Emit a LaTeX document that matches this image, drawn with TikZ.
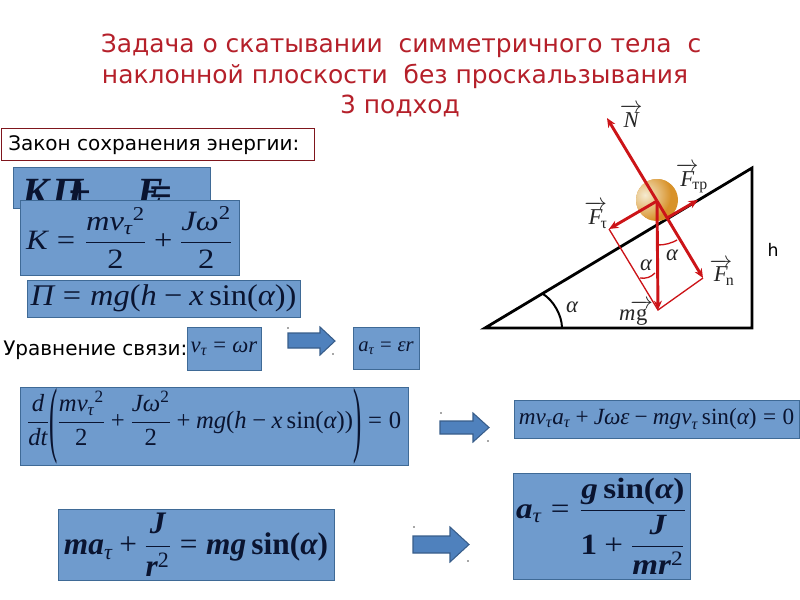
\documentclass[tikz,border=0pt]{standalone}
\usepackage{fix-cm}
\usepackage{amsmath}
\usepackage{graphicx}
\usepackage{fontspec}
\setmainfont{DejaVu Sans}
\newfontfamily\tms{Liberation Serif}
\usetikzlibrary{arrows.meta}
\definecolor{boxfill}{HTML}{6F9BCD}
\definecolor{boxline}{HTML}{3F6A96}
\definecolor{inkblue}{HTML}{0A1430}
\definecolor{titlered}{HTML}{B5202A}
\definecolor{forcered}{HTML}{CC1418}
\definecolor{arrowfill}{HTML}{4F81BD}
\definecolor{arrowline}{HTML}{385D8A}
\definecolor{ballin}{HTML}{F5EBD0}
\definecolor{ballout}{HTML}{D8922A}
\newcommand{\fs}[1]{\fontsize{#1}{#1}\selectfont}
\newcommand{\mi}[1]{\text{\itshape #1}}
\newcommand{\mr}[1]{\text{\upshape #1}}
\newcommand{\mb}[1]{\text{\bfseries\itshape #1}}
\newcommand{\mc}[1]{\text{\bfseries\upshape #1}}
\newcommand{\Pl}{\mathbin{\text{\upshape +}}}
\newcommand{\Mn}{\mathbin{\text{\upshape −}}}
\newcommand{\Eq}{\mathrel{\text{\upshape =}}}
\newcommand{\Fr}[2]{\genfrac{}{}{0.9pt}{0}{#1}{#2}}
\newcommand{\Vc}[1]{\overrightarrow{#1}\mkern-5mu}
\tikzset{
  wh/.style 2 args={minimum width=#1*0.75pt, minimum height=#2*0.75pt},
  formula/.style={draw=boxline, line width=0.7pt, fill=boxfill, text=inkblue, inner sep=0pt, font=\tms},
  titletext/.style={text=titlered, font=\fs{18.7}, inner sep=0pt},
  plaintext/.style={text=black, font=\fs{15}, inner sep=0pt},
  blockarrow/.style={draw=arrowline, line width=0.8pt, fill=arrowfill},
  speck/.style={fill=black!70, draw=none},
  edge/.style={draw=black, line width=2.1pt},
  force/.style={draw=forcered, line width=2.2pt, -{Stealth[length=7pt,width=6pt]}},
  thinred/.style={draw=forcered, line width=1pt},
  lab/.style={text=black!85, font=\tms\fs{17}, inner sep=0pt}
}
\begin{document}
\begin{tikzpicture}[x=0.75pt,y=-0.75pt]
\useasboundingbox (0,0) rectangle (800,600);
\node[titletext] (t1) at (401,46) {Задача о скатывании\ \ симметричного тела\ \ с};
\node[titletext] (t2) at (395,76) {наклонной плоскости\ \ без проскальзывания};
\node[titletext] (t3) at (400,106) {3 подход};
\node[plaintext, draw=titlered!70!black, line width=0.7pt, fill=white, wh={313}{32}] (law) at (157.5,144) {};
\node[plaintext, anchor=west] (lawt) at (8,145) {Закон сохранения энергии:};
\node[plaintext, anchor=west] (uravn) at (3,350) {Уравнение связи:};
% formula boxes
\node[formula, wh={197}{41}] (f0) at (111.5,187.5) {};
\node[text=inkblue, font=\tms\fs{30}\bfseries\itshape, anchor=west, inner sep=0pt] (f0t) at (22,192) {K\kern 3pt П\kern-12pt +\kern 35pt E\kern-11pt =};
\node[formula, wh={219}{75}] (f1) at (129.5,237.5) {\scalebox{1.16}[1]{\fs{21}$\mi{K}\Eq\Fr{\mi{mv}_{\mi{τ}}{}^{\mr{2}}}{\mr{2}}\Pl\Fr{\mi{Jω}^{\mr{2}}}{\mr{2}}$}};
\node[formula, wh={273}{37}] (f2) at (163.5,298.5) {\scalebox{1.08}[1]{\fs{22.5}$\mi{П}\Eq\mi{mg}\mr{(}\mi{h}\Mn\mi{x}\mr{\,sin(}\mi{α}\mr{))}$}};
\node[formula, wh={74}{43}] (f3) at (224,348.5) {\fs{17}$\mi{v}_{\mi{τ}}\Eq\mi{ωr}$};
\node[formula, wh={66}{42}] (f4) at (386,348) {\fs{15.5}$\mi{a}_{\mi{τ}}\Eq\mi{εr}$};
\node[formula, wh={388}{78}] (f5) at (214,426) {\fs{18.5}$\Fr{\mi{d}}{\mi{dt}}\raisebox{-0.72em}{\scalebox{1}[3.4]{\upshape(}}\Fr{\mi{mv}_{\mi{τ}}{}^{\mr{2}}}{\mr{2}}\Pl\Fr{\mi{Jω}^{\mr{2}}}{\mr{2}}\Pl\mi{mg}\mr{(}\mi{h}\Mn\mi{x}\mr{\,sin(}\mi{α}\mr{))}\raisebox{-0.72em}{\scalebox{1}[3.4]{\upshape)}}\Eq\mr{0}$};
\node[formula, wh={285}{38}] (f6) at (656.5,419) {\fs{17.4}$\mi{mv}_{\mi{τ}}\mi{a}_{\mi{τ}}\Pl\mi{Jωε}\Mn\mi{mgv}_{\mi{τ}}\mr{\,sin(}\mi{α}\mr{)}\Eq\mr{0}$};
\node[formula, wh={276}{71}] (f7) at (196,544.5) {\fs{23.5}$\mb{ma}_{\mi{τ}}\Pl\Fr{\mb{J}}{\mb{r}^{\mr{2}}}\Eq\mb{mg}\mc{\,sin(}\mb{α}\mc{)}$};
\node[formula, wh={177}{106}] (f8) at (601.5,526) {\scalebox{1.13}[1]{\fs{22}$\mb{a}_{\mi{τ}}\Eq\Fr{\mb{g}\mc{\,sin(}\mb{α}\mc{)}}{\mc{1}\Pl\Fr{\mb{J}}{\mb{mr}^{\mr{2}}}}$}};
% block arrows
\draw[blockarrow] (288,333) -- (320,333) -- (320,327) -- (335,341) -- (320,355) -- (320,348) -- (288,348) -- cycle;
\draw[blockarrow] (440,421) -- (473,421) -- (473,413) -- (489,427.5) -- (473,442) -- (473,434) -- (440,434) -- cycle;
\draw[blockarrow] (413,536) -- (450,536) -- (450,527) -- (469,544.5) -- (450,562) -- (450,553) -- (413,553) -- cycle;
\foreach \px/\py in {288/328,333/354,441/413,488/441,414/527,468/561}
  \fill[speck] (\px,\py) circle (0.6pt);
% incline
\coordinate (A) at (485,328);
\coordinate (B) at (752,328);
\coordinate (C) at (752,168);
\draw[edge, line join=miter] (A) -- (B) -- (C) -- cycle;
\draw[draw=black, line width=1.5pt] (543,294) .. controls (553,300) and (562,315) .. (562,328);
% ball
\fill[ballout] (657,200) circle (21);
\begin{scope}
\clip (657,200) circle (21);
\shade[inner color=ballin, outer color=ballout] (645,195) circle (26);
\end{scope}
% forces
\coordinate (O) at (657,201);
\coordinate (N) at (607,118);
\coordinate (Fn) at (703,278);
\coordinate (Ft) at (609,229);
\coordinate (Mg) at (658,310);
\coordinate (Tr0) at (667,218);
\coordinate (Tr) at (698,200);
\draw[thinred] (Ft) -- (Mg) -- (Fn);
\draw[force] (O) -- (N);
\draw[force] (O) -- (Fn);
\draw[force] (O) -- (Ft);
\draw[force] (O) -- (Mg);
\draw[force] (Tr0) -- (Tr);
\draw[thinred] (658,245) .. controls (665,245) and (672,243) .. (677,240);
\draw[thinred] (640,278) .. controls (646,279) and (651,277) .. (655,273);
% labels
\node[lab] (lN) at (628,116) {$\Vc{\mi{N}}$};
\node[lab] (lTr) at (692,178) {$\Vc{\mi{F}}{}_{\mr{тр}}$};
\node[lab] (lT) at (596,215) {$\Vc{\mi{F}}{}_{\mr{τ}}$};
\node[lab] (lN2) at (722,272) {$\Vc{\mi{F}}{}_{\mr{n}}$};
\node[lab] (lmg) at (633,313) {$\mi{m}\mkern-4mu\Vc{\mr{g}}$};
\node[lab] (a1) at (672,255) {$\mi{α}$};
\node[lab] (a2) at (646,265) {$\mi{α}$};
\node[lab] (a3) at (572,307) {$\mi{α}$};
\node[plaintext, font=\fs{13}] (h) at (773,250) {h};
\end{tikzpicture}
\end{document}
